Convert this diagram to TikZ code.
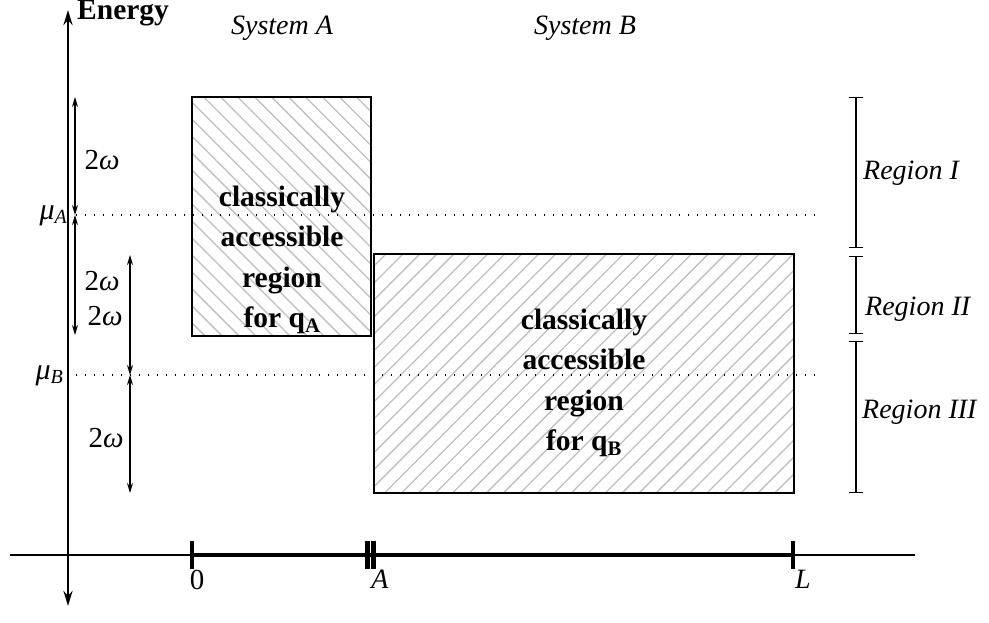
\documentclass[tikz,border=0pt]{standalone}
\usepackage{fontspec}
\setmainfont{Liberation Serif}
\usetikzlibrary{arrows.meta,patterns.meta}
\begin{document}
\begin{tikzpicture}[x=1pt,y=-1pt,
  txt/.style={font=\fontsize{29}{40}\selectfont, inner sep=0pt},
  itxt/.style={font=\itshape\fontsize{28}{40}\selectfont, inner sep=0pt},
  btxt/.style={font=\bfseries\fontsize{29.5}{40.5}\selectfont, inner sep=0pt, align=center},
  boxa/.style={draw=black, line width=2pt, inner sep=0pt, minimum width=179pt, minimum height=239pt,
    pattern={Lines[angle=-45,distance=12pt,line width=1.3pt]}, pattern color=black!25},
  boxb/.style={draw=black, line width=2pt, inner sep=0pt, minimum width=420pt, minimum height=239pt,
    pattern={Lines[angle=45,distance=12pt,line width=1.3pt]}, pattern color=black!25},
  dim/.style={line width=1.3pt, {Stealth[length=10pt,width=6pt]}-{Stealth[length=10pt,width=6pt]}},
  axis/.style={line width=2.8pt, {Stealth[length=15pt,width=9pt]}-{Stealth[length=15pt,width=9pt]}},
  regbar/.style={line width=1.3pt, {Bar[width=14pt,line width=1.3pt]}-{Bar[width=14pt,line width=1.3pt]}},
  lev/.style={line width=1.1pt, dash pattern=on 1.3pt off 7.7pt},
  tick/.style={line width=4.5pt},
]
\useasboundingbox (0,0) rectangle (989,623);
% boxes
\node[boxa] (boxA) at (281.5,216.5) {};
\node[boxb] (boxB) at (584,373.5) {};
\node[btxt] (tA) at (282,260) {classically\\accessible\\region\\for q\textsubscript{A}};
\node[btxt] (tB) at (584,383) {classically\\accessible\\region\\for q\textsubscript{B}};
% axes
\coordinate (vt) at (68,10);
\coordinate (vb) at (68,606);
\draw[axis] (vb) -- (vt);
\coordinate (hl) at (10,555);
\coordinate (hr) at (915,555);
\draw[line width=1.5pt] (hl) -- (hr);
\coordinate (x0) at (192,555);
\coordinate (xA) at (370,555);
\coordinate (xL) at (793,555);
\draw[line width=4pt] (x0) -- (xL);
\draw[tick] ([yshift=-14pt]x0) -- ([yshift=14pt]x0);
\draw[tick] ([xshift=-2.3pt,yshift=-14pt]xA) -- ([xshift=-2.3pt,yshift=14pt]xA);
\draw[tick] ([xshift=3.3pt,yshift=-14pt]xA) -- ([xshift=3.3pt,yshift=14pt]xA);
\draw[tick] ([yshift=-14pt]xL) -- ([yshift=14pt]xL);
\node[txt] (l0) at (197,580) {0};
\node[itxt] (lA) at (380,579) {A};
\node[itxt] (lL) at (803,579) {L};
\node[txt, font=\bfseries\fontsize{29.5}{40}\selectfont, anchor=base west] (en) at (77,20) {Energy};
\node[itxt] (sA) at (282,28) {System A};
\node[itxt] (sB) at (585,28) {System B};
% levels
\coordinate (muAl) at (76,215);
\coordinate (muAr) at (820,215);
\coordinate (muBl) at (76,375);
\coordinate (muBr) at (820,375);
\draw[lev] (muAl) -- (muAr);
\draw[lev] (muBl) -- (muBr);
\node[itxt, anchor=east, font=\itshape\fontsize{30}{40}\selectfont] (mA) at (67,216) {μ\raisebox{-0.3ex}{\fontsize{20}{20}\selectfont A}};
\node[itxt, anchor=east, font=\itshape\fontsize{30}{40}\selectfont] (mB) at (63,376) {μ\raisebox{-0.3ex}{\fontsize{20}{20}\selectfont B}};
% 2 omega arrows
\coordinate (a1) at (75,97);
\coordinate (a2) at (75,215);
\coordinate (a3) at (75,335);
\coordinate (b1) at (130,255);
\coordinate (b2) at (130,375);
\coordinate (b3) at (130,493);
\draw[dim] (a1) -- (a2);
\draw[dim] (a2) -- (a3);
\draw[dim] (b1) -- (b2);
\draw[dim] (b2) -- (b3);
\node[txt] (w1) at (102,160) {2\textit{ω}};
\node[txt] (w2) at (102,281) {2\textit{ω}};
\node[txt] (w3) at (105,316) {2\textit{ω}};
\node[txt] (w4) at (106,438) {2\textit{ω}};
% region brackets
\coordinate (r1) at (856,97);
\coordinate (r2) at (856,248);
\coordinate (r3) at (856,256);
\coordinate (r4) at (856,334);
\coordinate (r5) at (856,341);
\coordinate (r6) at (856,493);
\draw[regbar] (r1) -- (r2);
\draw[regbar] (r3) -- (r4);
\draw[regbar] (r5) -- (r6);
\node[itxt, anchor=west] (RI) at (863,173) {Region I};
\node[itxt, anchor=west] (RII) at (865,309) {Region II};
\node[itxt, anchor=west] (RIII) at (862,412) {Region III};
\end{tikzpicture}
\end{document}
